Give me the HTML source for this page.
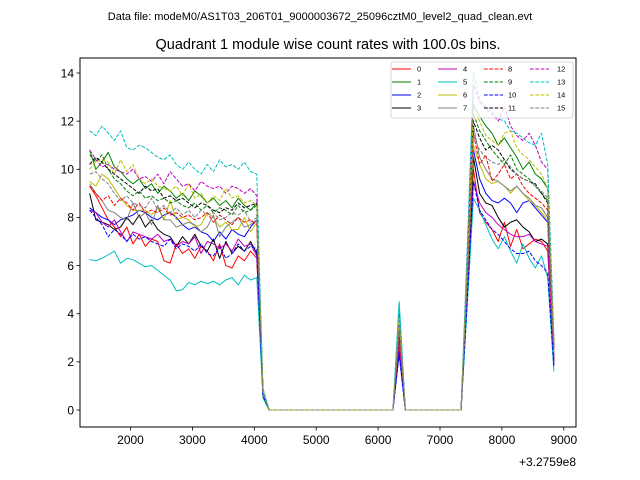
<!DOCTYPE html>
<html><head><meta charset="utf-8"><style>
body{margin:0;background:#fff;}
svg{display:block;font-family:"Liberation Sans","DejaVu Sans",sans-serif;}
</style></head><body>
<svg id="chart" width="640" height="480" viewBox="0 0 640 480" xmlns="http://www.w3.org/2000/svg">
<rect x="0" y="0" width="640" height="480" fill="#fff"/>
<text x="320" y="20" font-size="11" text-anchor="middle">Data file: modeM0/AS1T03_206T01_9000003672_25096cztM0_level2_quad_clean.evt</text>
<text x="328" y="49" font-size="14.5" text-anchor="middle">Quadrant 1 module wise count rates with 100.0s bins.</text>
<g id="plot"></g>
</svg>
<script>
const xVals=[1340,1440,1540,1640,1740,1840,1940,2040,2140,2240,2340,2440,2540,2640,2740,2840,2940,3040,3140,3240,3340,3440,3540,3640,3740,3840,3940,4040,4140,4240,4340,4440,4540,4640,4740,4840,4940,5040,5140,5240,5340,5440,5540,5640,5740,5840,5940,6040,6140,6240,6340,6440,6540,6640,6740,6840,6940,7040,7140,7240,7340,7440,7540,7640,7740,7840,7940,8040,8140,8240,8340,8440,8540,8640,8740,8840];
const s0=[9.3,8.9,8.4,7.9,7.6,7.2,7.6,6.9,7.3,6.8,7.1,7.0,6.2,6.1,6.9,6.5,6.7,6.3,6.8,6.6,6.2,6.9,6.0,5.9,6.4,6.2,6.6,6.3,0.7,0,0,0,0,0,0,0,0,0,0,0,0,0,0,0,0,0,0,0,0,0,2.6,0,0,0,0,0,0,0,0,0,0,4.8,10.0,8.2,7.8,7.5,7.0,7.8,6.8,7.5,6.7,6.9,7.1,7.0,6.6,2.0];
const s1=[10.8,10.0,10.3,10.7,10.1,9.9,9.6,9.4,9.6,9.2,9.4,9.0,9.3,9.1,8.8,9.0,8.7,9.1,8.9,8.6,8.8,8.5,8.7,8.4,8.8,8.5,8.3,8.6,0.8,0,0,0,0,0,0,0,0,0,0,0,0,0,0,0,0,0,0,0,0,0,3.6,0,0,0,0,0,0,0,0,0,0,6.0,12.7,12.2,11.8,11.5,11.0,11.3,10.9,10.5,10.0,10.3,9.8,9.6,9.2,2.6];
const s2=[8.4,8.2,8.0,7.9,7.7,7.9,8.0,8.1,8.3,8.2,8.0,7.9,8.1,8.2,8.0,7.7,7.5,7.6,7.4,7.3,7.0,7.4,7.1,7.5,7.3,7.2,7.6,7.9,0.7,0,0,0,0,0,0,0,0,0,0,0,0,0,0,0,0,0,0,0,0,0,2.4,0,0,0,0,0,0,0,0,0,0,5.2,10.8,9.6,9.0,8.7,8.6,8.8,8.6,8.2,8.6,8.7,8.4,8.1,7.8,1.9];
const s3=[9.0,7.9,7.8,7.7,7.5,7.6,8.0,7.7,8.1,7.6,7.9,7.5,7.3,7.2,6.8,7.2,6.9,7.3,6.8,6.6,7.1,6.3,7.0,6.5,6.8,6.6,7.0,6.5,0.6,0,0,0,0,0,0,0,0,0,0,0,0,0,0,0,0,0,0,0,0,0,3.0,0,0,0,0,0,0,0,0,0,0,5.0,10.5,9.0,8.6,8.5,8.0,7.6,7.8,7.9,7.6,7.4,7.0,7.1,6.9,2.2];
const s4=[8.3,8.2,7.8,7.6,7.9,7.4,7.0,7.4,7.3,7.2,7.1,7.3,7.0,7.1,6.8,7.0,6.9,7.2,6.5,7.0,6.9,6.7,6.9,6.6,7.1,6.8,6.9,6.4,0.6,0,0,0,0,0,0,0,0,0,0,0,0,0,0,0,0,0,0,0,0,0,2.8,0,0,0,0,0,0,0,0,0,0,4.6,9.5,8.6,8.2,8.0,7.7,7.5,7.3,7.2,7.2,7.3,7.0,6.9,6.8,2.1];
const s5=[6.25,6.2,6.3,6.45,6.6,6.1,6.3,6.25,6.1,5.95,6.0,5.8,5.6,5.4,4.95,5.0,5.3,5.2,5.35,5.25,5.35,5.2,5.4,5.5,5.2,5.6,5.4,5.5,0.5,0,0,0,0,0,0,0,0,0,0,0,0,0,0,0,0,0,0,0,0,0,4.5,0,0,0,0,0,0,0,0,0,0,4.3,8.8,8.3,7.7,7.1,6.7,7.2,6.6,6.1,6.9,6.3,5.9,6.4,5.5,1.6];
const s6=[9.5,9.3,9.8,9.6,9.2,8.8,8.5,8.3,8.3,8.3,8.1,8.4,7.9,8.7,7.9,8.0,7.9,7.6,7.7,8.2,8.0,7.6,7.8,7.5,7.5,8.0,7.4,7.8,0.7,0,0,0,0,0,0,0,0,0,0,0,0,0,0,0,0,0,0,0,0,0,3.3,0,0,0,0,0,0,0,0,0,0,5.3,11.0,10.2,9.6,9.4,9.5,9.3,9.0,9.3,9.0,8.7,8.5,8.2,7.9,2.4];
const s7=[9.4,9.0,8.7,8.3,8.2,8.0,7.9,8.6,8.0,8.2,7.7,8.5,7.9,7.9,7.6,7.7,7.8,7.7,7.4,7.6,8.1,7.2,7.6,7.8,8.0,7.6,7.7,7.9,0.7,0,0,0,0,0,0,0,0,0,0,0,0,0,0,0,0,0,0,0,0,0,3.4,0,0,0,0,0,0,0,0,0,0,5.6,11.8,10.5,10.0,9.6,9.5,9.3,9.1,9.3,9.0,8.8,8.5,8.4,8.0,2.5];
const s8=[9.3,9.0,8.7,8.9,8.5,8.8,8.6,8.3,8.6,8.2,8.3,8.2,8.4,8.1,8.2,8.0,8.1,7.9,8.0,8.2,7.8,8.1,7.9,7.7,8.0,7.8,7.9,7.7,0.7,0,0,0,0,0,0,0,0,0,0,0,0,0,0,0,0,0,0,0,0,0,3.2,0,0,0,0,0,0,0,0,0,0,5.5,11.5,10.2,10.6,9.5,9.8,10.2,9.6,9.8,9.3,9.0,8.8,8.6,8.3,2.6];
const s9=[10.6,10.3,10.6,10.0,9.6,9.4,9.1,8.9,9.1,8.8,8.9,8.7,8.8,8.6,8.7,8.5,8.4,8.6,8.3,8.5,8.2,8.4,8.3,8.1,8.5,8.2,8.3,8.5,0.8,0,0,0,0,0,0,0,0,0,0,0,0,0,0,0,0,0,0,0,0,0,3.7,0,0,0,0,0,0,0,0,0,0,5.9,12.3,11.6,11.2,10.8,10.5,10.2,10.6,10.0,9.8,9.6,9.3,9.0,8.7,2.7];
const s10=[8.3,8.0,7.7,7.2,7.5,7.3,7.0,7.3,7.1,7.2,7.0,6.9,6.8,7.1,6.7,6.9,6.8,6.6,6.9,6.5,6.4,6.8,6.3,6.5,6.9,6.6,6.8,6.7,0.6,0,0,0,0,0,0,0,0,0,0,0,0,0,0,0,0,0,0,0,0,0,2.3,0,0,0,0,0,0,0,0,0,0,4.6,9.5,8.3,7.9,7.5,7.3,7.0,6.7,6.5,6.5,6.6,6.2,6.0,5.7,1.8];
const s11=[10.2,10.5,10.3,10.0,9.8,9.6,9.4,9.2,9.0,9.3,9.1,9.2,8.8,8.9,8.7,8.8,8.6,8.4,8.6,8.5,8.3,8.2,8.4,8.3,8.6,8.4,8.5,8.6,0.8,0,0,0,0,0,0,0,0,0,0,0,0,0,0,0,0,0,0,0,0,0,3.6,0,0,0,0,0,0,0,0,0,0,5.8,12.0,11.3,10.8,11.0,10.8,10.4,10.0,9.8,9.6,9.5,9.4,9.0,8.6,2.7];
const s12=[10.8,10.4,10.1,10.2,10.0,9.9,9.8,10.0,9.6,9.7,9.5,9.8,9.4,9.9,9.6,9.3,9.4,9.1,9.5,9.3,9.2,9.3,9.0,9.3,9.2,9.0,9.2,8.9,0.8,0,0,0,0,0,0,0,0,0,0,0,0,0,0,0,0,0,0,0,0,0,4.0,0,0,0,0,0,0,0,0,0,0,6.4,13.5,12.8,12.5,12.3,12.0,12.6,11.8,11.4,11.2,11.5,11.0,10.3,10.0,2.9];
const s13=[11.6,11.4,11.8,11.5,11.2,11.6,10.9,10.8,11.0,10.9,10.7,10.5,10.4,10.6,10.2,10.0,10.3,10.0,9.8,10.2,9.9,10.4,10.1,10.2,10.0,10.3,9.9,9.8,0.9,0,0,0,0,0,0,0,0,0,0,0,0,0,0,0,0,0,0,0,0,0,4.4,0,0,0,0,0,0,0,0,0,0,6.8,14.0,12.9,12.6,12.4,12.1,12.0,11.6,11.5,11.3,11.1,11.0,11.5,10.2,3.0];
const s14=[10.0,10.3,10.4,10.3,9.8,10.4,9.9,10.2,9.6,9.4,9.6,9.3,9.2,9.1,9.3,8.9,9.4,8.8,9.0,8.6,8.9,8.7,9.2,8.8,8.9,8.6,8.7,8.5,0.8,0,0,0,0,0,0,0,0,0,0,0,0,0,0,0,0,0,0,0,0,0,3.8,0,0,0,0,0,0,0,0,0,0,6.0,12.5,12.0,11.4,11.2,11.0,11.5,11.6,10.9,10.6,10.4,10.1,9.8,9.2,2.8];
const s15=[9.8,9.9,9.6,9.4,9.0,8.7,8.9,8.6,8.5,8.4,8.8,8.3,8.5,8.2,8.4,8.1,8.3,8.0,8.3,8.1,8.2,7.9,8.0,8.2,8.1,8.3,7.8,8.0,0.7,0,0,0,0,0,0,0,0,0,0,0,0,0,0,0,0,0,0,0,0,0,3.5,0,0,0,0,0,0,0,0,0,0,5.5,11.4,10.8,10.5,10.3,10.2,10.4,10.1,9.8,9.6,9.5,9.3,9.1,8.8,2.5];
const seriesNames=["0","1","2","3","4","5","6","7","8","9","10","11","12","13","14","15"];
const xTicks=[2000,3000,4000,5000,6000,7000,8000,9000];
const yTicks=[0,2,4,6,8,10,12,14];

const allSeries=[s0,s1,s2,s3,s4,s5,s6,s7,s8,s9,s10,s11,s12,s13,s14,s15];
const colors=["#ff0000","#008000","#0000ff","#000000","#bf00bf","#00bfbf","#bfbf00","#808080"];
const L=80,R=576,T=58,B=427;
function xs(v){return 130.5+(v-2000)*0.0619;}
function ys(v){return 410-v*24.07;}
const NS="http://www.w3.org/2000/svg";
const g=document.getElementById('plot');
function mk(tag,attrs,parent){const e=document.createElementNS(NS,tag);for(const k in attrs)e.setAttribute(k,attrs[k]);(parent||g).appendChild(e);return e;}

allSeries.forEach((s,i)=>{
  const d=s.map((v,j)=>(j?'L':'M')+xs(xVals[j]).toFixed(2)+' '+ys(v).toFixed(2)).join(' ');
  const p=mk('path',{d:d,fill:'none',stroke:colors[i%8],'stroke-width':1,'stroke-linejoin':'round'});
  if(i>=8)p.setAttribute('stroke-dasharray','3.7 1.6');
  
  
});

const frame=mk('rect',{x:L,y:T,width:R-L,height:B-T,fill:'none',stroke:'#000','stroke-width':1});



xTicks.forEach(t=>{
  const x=xs(t);
  const tk=mk('line',{x1:x,x2:x,y1:B,y2:B+3.5,stroke:'#000','stroke-width':0.8});
  
  
  const lb=mk('text',{x:x,y:B+17,'font-size':12,'text-anchor':'middle'});
  lb.textContent=t;
  
  
});
yTicks.forEach(t=>{
  const y=ys(t);
  const tk=mk('line',{x1:L-3.5,x2:L,y1:y,y2:y,stroke:'#000','stroke-width':0.8});
  
  
  const lb=mk('text',{x:L-6,y:y+4.3,'font-size':12,'text-anchor':'end'});
  lb.textContent=t;
  
  
});
const off=mk('text',{x:576,y:466,'font-size':12,'text-anchor':'end'});
off.textContent='+3.2759e8';



const leg=mk('g',{});


const lbx=mk('rect',{x:391,y:62,width:182,height:56,rx:2,fill:'#fff','fill-opacity':0.8,stroke:'#ccc','stroke-width':0.8},leg);


const colX=[392,438,484,530];
const labX=[417,463,508,557];
const rowY=[69,82,95,108];
seriesNames.forEach((n,i)=>{
  const c=Math.floor(i/4),r=i%4;
  const eg=mk('g',{},leg);
  
  
  const ln=mk('line',{x1:colX[c],x2:colX[c]+19,y1:rowY[r],y2:rowY[r],stroke:colors[i%8],'stroke-width':1},eg);
  if(i>=8)ln.setAttribute('stroke-dasharray','3.7 1.6');
  
  
  const tx=mk('text',{x:labX[c],y:rowY[r]+2.6,'font-size':7.5},eg);
  tx.textContent=n;
  
  
});
</script>
</body></html>
